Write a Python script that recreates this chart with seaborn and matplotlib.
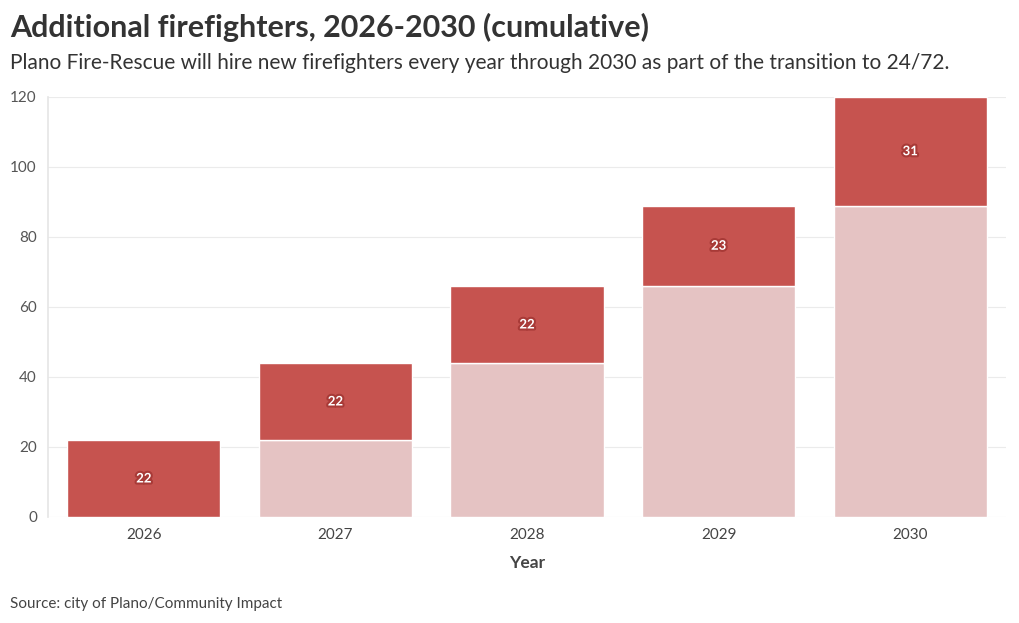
import numpy as np
import pandas as pd
import matplotlib
matplotlib.use('Agg')
import matplotlib.pyplot as plt
import matplotlib.patheffects as pe
import seaborn as sns

years = ['2026', '2027', '2028', '2029', '2030']
previous = [0, 22, 44, 66, 89]
new_hires = [22, 22, 22, 23, 31]

sns.set_theme(style='white')
plt.rcParams['font.family'] = ['Lato', 'DejaVu Sans']

df = pd.DataFrame({'Year': years, 'previous': previous, 'new': new_hires})

fig = plt.figure(figsize=(10.2, 6.23), dpi=100)
ax = fig.add_axes([48 / 1020, 1 - 517 / 623, 958 / 1020, 420 / 623])

sns.barplot(data=df, x='Year', y='previous', color='#e5c3c3', saturation=1,
            width=0.8, edgecolor='white', linewidth=1, ax=ax)
sns.barplot(data=df, x='Year', y='new', color='#c6534f', saturation=1,
            width=0.8, edgecolor='white', linewidth=1, bottom=df['previous'], ax=ax)

# value labels in the middle of the new-hire segment
for i, (b, n) in enumerate(zip(previous, new_hires)):
    ax.text(i, b + n / 2, str(n), ha='center', va='center', fontsize=9.5,
            fontweight='bold', color='white',
            path_effects=[pe.withStroke(linewidth=3, foreground='#a83a37')])

ax.set_xlim(-0.5, 4.5)
ax.set_ylim(0, 120)
ax.set_yticks(range(0, 121, 20))
ax.grid(axis='y', color='#ebebeb', linewidth=0.8)
ax.set_axisbelow(True)
for s in ['top', 'right', 'bottom']:
    ax.spines[s].set_visible(False)
ax.spines['left'].set_color('#e6e6e6')
ax.tick_params(axis='y', length=5, color='#e6e6e6', labelsize=11, labelcolor='#555555', pad=3)
ax.tick_params(axis='x', length=0, labelsize=11, labelcolor='#444444', pad=8)
ax.set_ylabel('')
ax.set_xlabel('Year', fontsize=12.5, fontweight='bold', color='#444444', labelpad=9)

fig.text(10 / 1020, 1 - 27 / 623, 'Additional firefighters, 2026-2030 (cumulative)',
         fontsize=22, fontweight='bold', color='#333333', va='center')
fig.text(10 / 1020, 1 - 63 / 623,
         'Plano Fire-Rescue will hire new firefighters every year through 2030 as part of the transition to 24/72.',
         fontsize=15, color='#333333', va='center')
fig.text(10 / 1020, 1 - 604 / 623, 'Source: city of Plano/Community Impact',
         fontsize=11, color='#444444', va='center')

fig.savefig('out.png', dpi=100)
